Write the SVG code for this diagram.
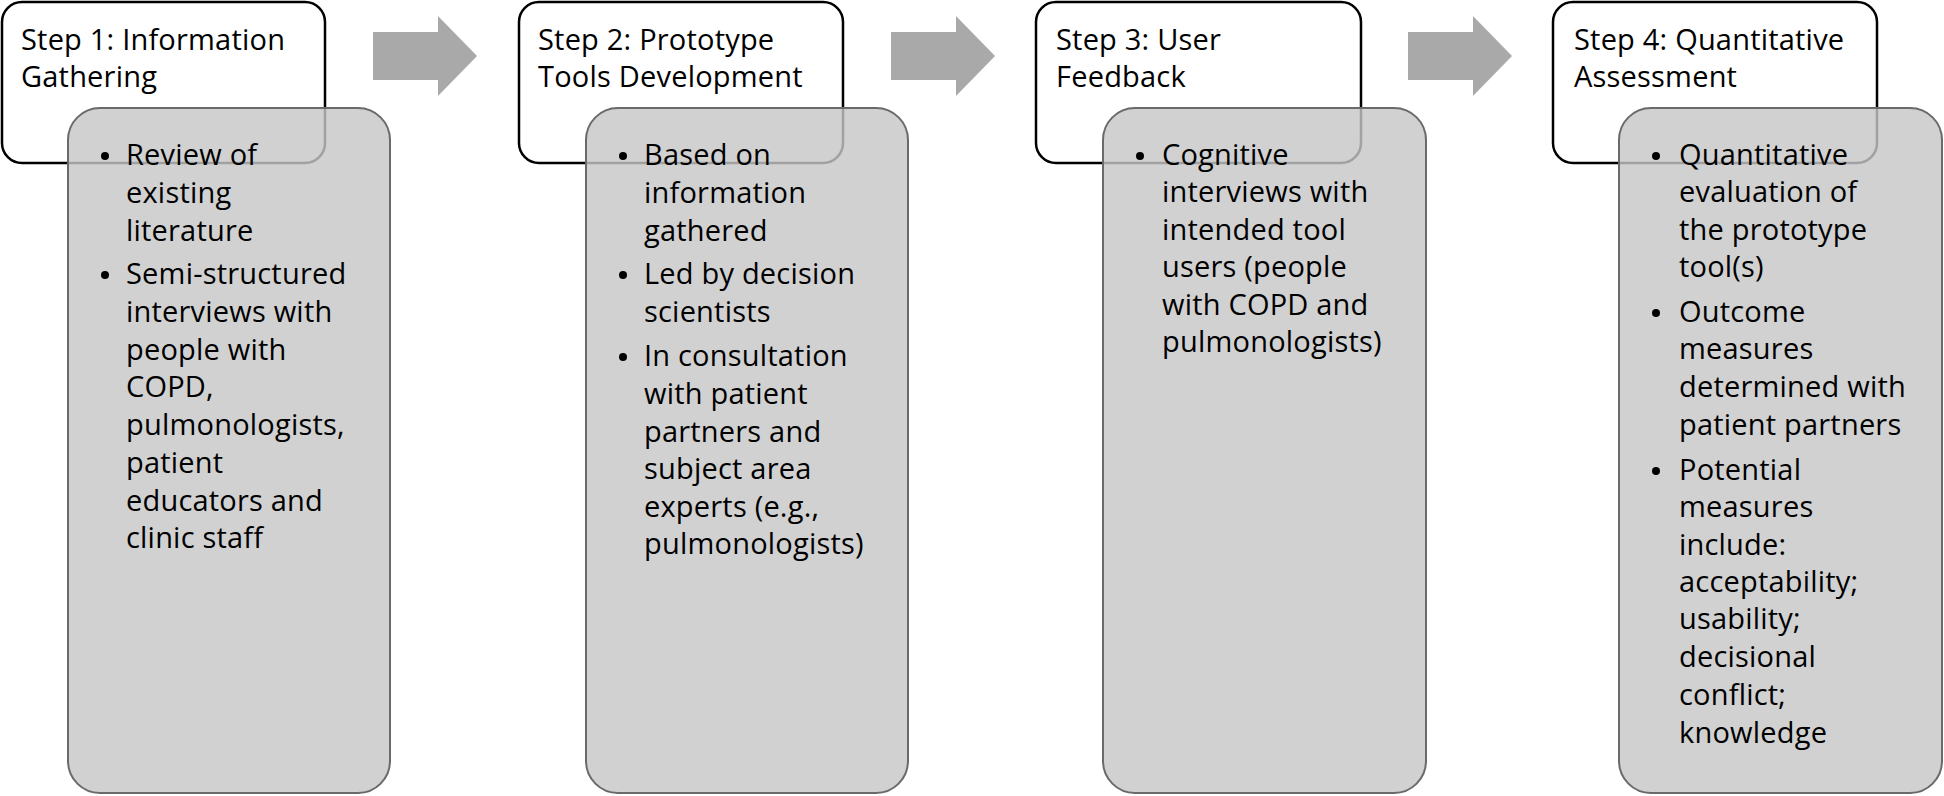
<svg xmlns="http://www.w3.org/2000/svg" width="1944" height="796" viewBox="0 0 1944 796">
<style>
.hdr{fill:#fff;stroke:#000;stroke-width:2.5}
.body{fill:#c6c6c6;fill-opacity:0.81;stroke:#6a6a6a;stroke-width:2}
.t{font-family:"Open Sans","Noto Sans","Liberation Sans",sans-serif;font-size:29px;letter-spacing:0.2px;fill:#000}
.dot{fill:#000}
.arr{fill:#a9a9a9}
</style>
<rect width="1944" height="796" fill="#fff"/>
<g id="connectors">
<polygon class="arr" points="373,32 438,32 438,16 477,56 438,96 438,80 373,80"/>
<polygon class="arr" points="891,32 956,32 956,16 995,56 956,96 956,80 891,80"/>
<polygon class="arr" points="1408,32 1473,32 1473,16 1512,56 1473,96 1473,80 1408,80"/>
</g>
<g id="step1">
<rect class="hdr" x="2" y="2" width="323" height="161" rx="20"/>
<text class="t" x="21" y="50">Step 1: Information</text>
<text class="t" x="21" y="87">Gathering</text>
<rect class="body" x="68" y="108" width="322" height="685" rx="32"/>
<circle class="dot" cx="105" cy="156" r="4"/>
<circle class="dot" cx="105" cy="275" r="4"/>
<text class="t" x="126" y="165">Review of</text>
<text class="t" x="126" y="203">existing</text>
<text class="t" x="126" y="241">literature</text>
<text class="t" x="126" y="284">Semi-structured</text>
<text class="t" x="126" y="322">interviews with</text>
<text class="t" x="126" y="360">people with</text>
<text class="t" x="126" y="397">COPD,</text>
<text class="t" x="126" y="435">pulmonologists,</text>
<text class="t" x="126" y="473">patient</text>
<text class="t" x="126" y="511">educators and</text>
<text class="t" x="126" y="548">clinic staff</text>
</g>
<g id="step2">
<rect class="hdr" x="519" y="2" width="324" height="161" rx="20"/>
<text class="t" x="538" y="50">Step 2: Prototype</text>
<text class="t" x="538" y="87">Tools Development</text>
<rect class="body" x="586" y="108" width="322" height="685" rx="32"/>
<circle class="dot" cx="623" cy="156" r="4"/>
<circle class="dot" cx="623" cy="275" r="4"/>
<circle class="dot" cx="623" cy="357" r="4"/>
<text class="t" x="644" y="165">Based on</text>
<text class="t" x="644" y="203">information</text>
<text class="t" x="644" y="241">gathered</text>
<text class="t" x="644" y="284">Led by decision</text>
<text class="t" x="644" y="322">scientists</text>
<text class="t" x="644" y="366">In consultation</text>
<text class="t" x="644" y="404">with patient</text>
<text class="t" x="644" y="442">partners and</text>
<text class="t" x="644" y="479">subject area</text>
<text class="t" x="644" y="517">experts (e.g.,</text>
<text class="t" x="644" y="554">pulmonologists)</text>
</g>
<g id="step3">
<rect class="hdr" x="1036" y="2" width="325" height="161" rx="20"/>
<text class="t" x="1056" y="50">Step 3: User</text>
<text class="t" x="1056" y="87">Feedback</text>
<rect class="body" x="1103" y="108" width="323" height="685" rx="32"/>
<circle class="dot" cx="1140" cy="156" r="4"/>
<text class="t" x="1162" y="165">Cognitive</text>
<text class="t" x="1162" y="202">interviews with</text>
<text class="t" x="1162" y="240">intended tool</text>
<text class="t" x="1162" y="277">users (people</text>
<text class="t" x="1162" y="315">with COPD and</text>
<text class="t" x="1162" y="352">pulmonologists)</text>
</g>
<g id="step4">
<rect class="hdr" x="1553" y="2" width="324" height="161" rx="20"/>
<text class="t" x="1574" y="50">Step 4: Quantitative</text>
<text class="t" x="1574" y="87">Assessment</text>
<rect class="body" x="1619" y="108" width="323" height="685" rx="32"/>
<circle class="dot" cx="1656" cy="156" r="4"/>
<circle class="dot" cx="1656" cy="313" r="4"/>
<circle class="dot" cx="1656" cy="471" r="4"/>
<text class="t" x="1679" y="165">Quantitative</text>
<text class="t" x="1679" y="202">evaluation of</text>
<text class="t" x="1679" y="240">the prototype</text>
<text class="t" x="1679" y="277">tool(s)</text>
<text class="t" x="1679" y="322">Outcome</text>
<text class="t" x="1679" y="359">measures</text>
<text class="t" x="1679" y="397">determined with</text>
<text class="t" x="1679" y="435">patient partners</text>
<text class="t" x="1679" y="480">Potential</text>
<text class="t" x="1679" y="517">measures</text>
<text class="t" x="1679" y="555">include:</text>
<text class="t" x="1679" y="592">acceptability;</text>
<text class="t" x="1679" y="629">usability;</text>
<text class="t" x="1679" y="667">decisional</text>
<text class="t" x="1679" y="705">conflict;</text>
<text class="t" x="1679" y="743">knowledge</text>
</g>
</svg>
